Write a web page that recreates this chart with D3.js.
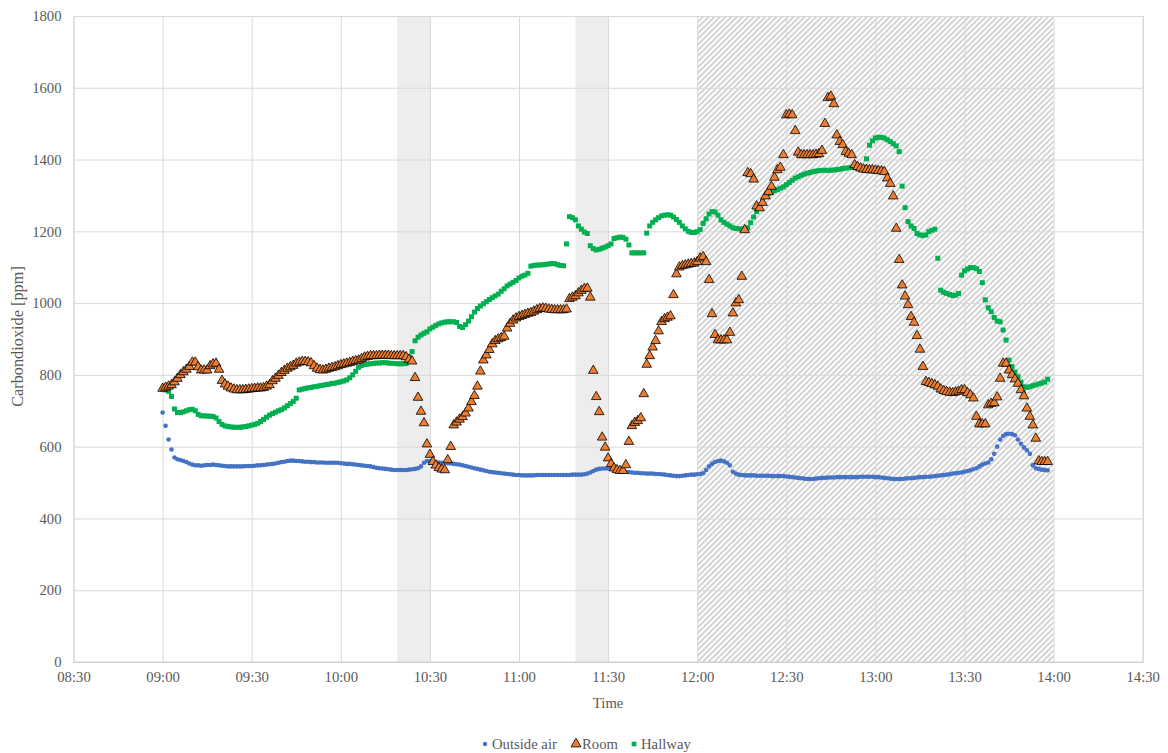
<!DOCTYPE html>
<html><head><meta charset="utf-8">
<script src="https://cdn.jsdelivr.net/npm/d3@7"></script>
<style>
body{margin:0;background:#fff;}
svg{display:block;}
</style>
</head><body>
<svg id="chart" width="1168" height="753"></svg>
<script>
// ---------- data (one reading per minute, starting 09:00) ----------
const seriesNames = ["Outside air", "Room", "Hallway"];
const startTime = "09:00";
const outsideAir = [
695,658,620,592,570,565,563,560,557,553,
550,548,548,547,548,549,549,550,549,548,
547,546,545,545,545,545,545,545,546,546,
546,547,548,548,549,550,551,552,553,555,
557,558,560,561,561,560,560,559,558,558,
557,557,556,556,556,555,555,555,555,555,
554,553,552,552,551,550,549,548,547,546,
545,543,541,540,539,538,537,536,535,535,
535,535,535,536,537,538,540,545,555,560,
560,558,557,556,555,555,554,553,552,551,
550,548,546,544,542,540,538,536,534,532,
530,529,528,527,526,525,524,523,522,521,
521,520,520,520,520,520,521,521,521,521,
521,521,521,521,521,521,521,521,522,522,
522,522,523,525,528,532,536,538,539,539,
539,538,537,535,533,531,530,529,528,527,
527,526,526,525,525,525,524,524,523,522,
521,520,519,518,518,519,520,521,522,522,
523,524,526,535,545,552,557,560,561,559,
555,548,530,525,522,521,520,520,520,520,
519,519,519,519,519,518,518,518,518,518,
517,516,515,514,513,512,511,510,510,510,
511,512,513,513,514,514,514,515,515,515,
515,515,515,515,515,516,516,516,516,516,
515,515,514,513,512,511,510,510,510,510,
511,512,512,513,514,515,515,516,516,517,
518,519,520,521,522,523,525,526,527,528,
530,532,534,537,540,545,550,553,556,565,
580,600,620,630,635,636,635,632,620,608,
598,590,580,548,540,538,536,535,534];
const room = [
762,765,768,772,780,790,800,808,815,823,
835,835,822,813,813,813,825,830,832,815,
784,774,768,763,760,758,758,758,759,760,
761,762,763,763,764,768,772,783,790,798,
806,812,818,822,826,832,835,837,837,836,
833,825,818,814,813,815,818,820,822,825,
828,830,832,834,837,839,841,845,849,851,
853,853,853,854,854,854,854,853,853,853,
853,853,850,843,838,792,737,698,666,607,
578,558,548,541,537,535,563,600,660,668,
676,683,693,707,725,742,768,810,841,855,
870,886,895,900,903,907,930,943,952,958,
962,965,968,971,973,977,981,984,986,985,
983,982,981,981,981,981,983,1012,1016,1020,
1028,1035,1040,1041,1016,812,739,697,626,598,
568,552,540,535,533,533,549,614,658,667,
672,680,747,829,853,877,895,922,948,956,
960,964,1023,1081,1100,1104,1106,1108,1110,1111,
1115,1125,1129,1115,1065,970,912,897,897,897,
897,918,972,1000,1009,1074,1204,1363,1360,1345,
1270,1265,1280,1298,1310,1325,1350,1371,1378,1413,
1524,1526,1524,1480,1420,1413,1413,1413,1413,1413,
1414,1416,1425,1500,1572,1576,1555,1468,1450,1441,
1422,1417,1413,1385,1380,1376,1373,1372,1371,1371,
1370,1369,1368,1366,1348,1333,1298,1208,1121,1050,
1019,995,962,946,909,871,823,781,778,775,
772,768,760,756,753,751,750,752,754,758,
758,750,744,735,684,663,663,663,716,720,
722,738,790,832,832,813,800,788,776,758,
741,707,684,660,623,560,558,558,558];
const hallway = [
760,758,754,740,705,695,695,697,700,703,
704,700,690,686,686,685,685,684,680,670,
662,658,656,655,654,654,654,655,656,658,
660,662,665,670,676,682,688,692,696,700,
703,708,714,720,726,735,758,760,762,764,
765,767,768,770,771,773,774,776,777,779,
781,783,786,792,800,810,821,826,829,830,
831,832,833,833,834,834,833,832,832,831,
831,831,832,850,865,895,905,911,916,920,
928,933,938,942,945,947,948,948,948,946,
935,932,940,950,962,975,985,992,998,1004,
1010,1015,1020,1025,1033,1040,1048,1053,1058,1063,
1070,1075,1078,1083,1103,1105,1106,1106,1107,1108,
1109,1110,1110,1107,1105,1104,1165,1241,1238,1232,
1215,1206,1198,1194,1160,1152,1148,1150,1153,1156,
1160,1165,1180,1182,1184,1183,1178,1162,1140,1140,
1140,1140,1140,1195,1215,1225,1232,1238,1243,1245,
1246,1245,1240,1233,1225,1215,1207,1200,1197,1197,
1199,1205,1222,1235,1248,1255,1254,1245,1232,1225,
1220,1215,1210,1208,1207,1206,1206,1210,1224,1240,
1255,1265,1283,1298,1305,1310,1313,1316,1320,1324,
1330,1336,1342,1348,1352,1356,1359,1362,1364,1366,
1368,1369,1370,1370,1370,1370,1371,1372,1373,1375,
1376,1377,1378,1378,1377,1375,1373,1402,1440,1452,
1460,1462,1462,1460,1455,1450,1444,1438,1422,1326,
1266,1227,1215,1208,1194,1190,1188,1190,1199,1203,
1206,1125,1036,1030,1027,1024,1021,1022,1027,1078,
1090,1095,1099,1099,1096,1088,1057,1009,987,976,
960,950,948,925,897,841,823,808,795,780,
767,765,767,770,772,775,777,780,788];
const yTicks = [0,200,400,600,800,1000,1200,1400,1600,1800];
const xTickLabels = ["08:30","09:00","09:30","10:00","10:30","11:00","11:30","12:00","12:30","13:00","13:30","14:00","14:30"];
const greyPeriods = [["10:19","10:30"],["11:19","11:30"]];
const hatchPeriod = ["12:00","14:00"];
const axisTitles = {x: "Time", y: "Carbondioxide [ppm]"};

// ---------- chart ----------
const FONT = "'Liberation Serif', 'Times New Roman', Tinos, serif";
const parse = d3.timeParse("%H:%M");
const svg = d3.select("#chart");
const L = 73.5, R = 1142.7, T = 16, B = 662;
const x = d3.scaleTime().domain([parse(xTickLabels[0]), parse(xTickLabels[xTickLabels.length-1])]).range([L, R]);
const y = d3.scaleLinear().domain([0, 1800]).range([B, T]);
const t0 = parse(startTime);
const tAt = i => d3.timeMinute.offset(t0, i);
const styleText = sel => sel.attr("font-family", FONT).style("font-family", FONT).style("font-size", "14.7px").attr("fill", "#595959");

const defs = svg.append("defs");
const pat = defs.append("pattern").attr("id","hatch").attr("patternUnits","userSpaceOnUse")
  .attr("width",4).attr("height",4).attr("patternTransform","rotate(45)");
pat.append("line").attr("x1",1).attr("y1",0).attr("x2",1).attr("y2",4)
  .attr("stroke","#c4c4c4").attr("stroke-width",1.5);

// grey bands
svg.append("g").selectAll("rect").data(greyPeriods).join("rect")
  .attr("x", d => x(parse(d[0]))).attr("width", d => x(parse(d[1])) - x(parse(d[0])))
  .attr("y", T).attr("height", B - T).attr("fill", "#ededed");
// hatched period
svg.append("rect").attr("x", x(parse(hatchPeriod[0]))).attr("width", x(parse(hatchPeriod[1])) - x(parse(hatchPeriod[0])))
  .attr("y", T).attr("height", B - T).attr("fill", "url(#hatch)");

// grid + axes
const gy = svg.append("g").attr("transform", `translate(${L},0)`)
  .call(d3.axisLeft(y).tickValues(yTicks).tickSize(-(R - L)).tickPadding(12).tickFormat(d3.format("d")));
gy.attr("font-family", FONT);
gy.select(".domain").remove();
gy.selectAll(".tick line").attr("stroke", "#d9d9d9");
gy.selectAll(".tick text").call(styleText);

const gx = svg.append("g").attr("transform", `translate(0,${B})`)
  .call(d3.axisBottom(x).tickValues(xTickLabels.map(parse)).tickSize(-(B - T)).tickPadding(10).tickFormat(d3.timeFormat("%H:%M")));
gx.attr("font-family", FONT);
gx.select(".domain").attr("stroke", "#d0d0d0");
gx.selectAll(".tick line").attr("stroke", "#d9d9d9");
gx.selectAll(".tick text").call(styleText);
svg.append("line").attr("x1", L).attr("x2", R).attr("y1", B).attr("y2", B).attr("stroke", "#d0d0d0");

// axis titles
svg.append("text").attr("x", (L + R) / 2).attr("y", 708).attr("text-anchor", "middle").call(styleText).text(axisTitles.x);
svg.append("text").attr("transform", `translate(23,336.5) rotate(-90)`).attr("text-anchor", "middle").call(styleText)
  .style("font-size", "16.3px").text(axisTitles.y);

// series
const blue = "#4472C4", orange = "#ED7D31", green = "#00B050";
const triangle = d3.symbol().type(d3.symbolTriangle).size(40);
const square = d3.symbol().type(d3.symbolSquare).size(25);

svg.append("g").selectAll("circle").data(outsideAir).join("circle")
  .attr("cx", (d, i) => x(tAt(i))).attr("cy", d => y(d)).attr("r", 2.3).attr("fill", blue);
svg.append("g").selectAll("path").data(hallway).join("path")
  .attr("d", square).attr("transform", (d, i) => `translate(${x(tAt(i))},${y(d)})`).attr("fill", green);
svg.append("g").selectAll("path").data(room).join("path")
  .attr("d", triangle).attr("transform", (d, i) => `translate(${x(tAt(i))},${y(d)})`)
  .attr("fill", orange).attr("stroke", "#000").attr("stroke-width", 0.8);

// legend
const lg = svg.append("g").attr("transform", "translate(0,749)");
const items = [
  {name: seriesNames[0], x: 485, mk: g => g.append("circle").attr("r", 2.2).attr("fill", blue)},
  {name: seriesNames[1], x: 576, mk: g => g.append("path").attr("d", d3.symbol().type(d3.symbolTriangle).size(44)).attr("fill", orange).attr("stroke", "#000").attr("stroke-width", 0.8)},
  {name: seriesNames[2], x: 634, mk: g => g.append("path").attr("d", d3.symbol().type(d3.symbolSquare).size(22)).attr("fill", green)}
];
items.forEach(it => {
  const g = lg.append("g").attr("transform", `translate(${it.x},-5)`);
  it.mk(g);
  lg.append("text").attr("x", it.x + (it.name === "Room" ? 6 : 7)).attr("y", 0).call(styleText).text(it.name);
});
</script>
</body></html>
